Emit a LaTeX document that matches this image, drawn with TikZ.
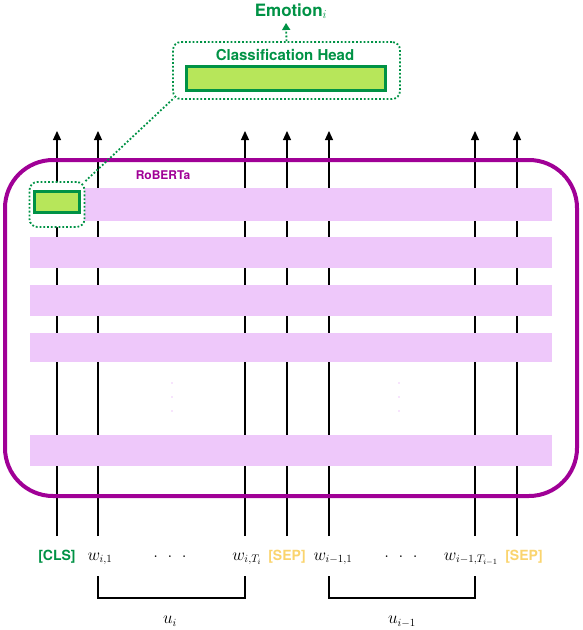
\documentclass[tikz,border=0pt]{standalone}
\usepackage{fontspec}
\setsansfont{TeX Gyre Heros}
\usepackage{amsmath}
\usepackage{tikz}
\usetikzlibrary{arrows.meta, calc, positioning}

\definecolor{headgreen}{RGB}{0,146,69}
\definecolor{lightgreen}{RGB}{183,230,90}
\definecolor{robpurple}{RGB}{160,0,150}
\definecolor{bandpink}{RGB}{238,200,250}
\definecolor{sepyellow}{RGB}{250,212,110}

\tikzset{
  tok/.style={font=\sffamily\bfseries\fontsize{14}{16}\selectfont, inner sep=1pt},
  word/.style={font=\fontsize{16}{18}\selectfont, inner sep=1pt},
  layerband/.style={fill=bandpink, draw=none},
  feedarrow/.style={line width=1.2pt, -{Triangle[length=9pt,width=8pt]}},
  greenbox/.style={draw=headgreen, fill=lightgreen, line width=3pt},
  zoombox/.style={draw=headgreen, dotted, line width=1.8pt, rounded corners=8pt},
}

\newcommand{\spdots}{.\hspace{0.6em}.\hspace{0.6em}.}

\begin{document}
\begin{tikzpicture}[x=1pt,y=-1pt]
  \useasboundingbox (0,0) rectangle (582,630);

  % input tokens
  \node[tok, text=headgreen] (cls) at (57,557) {[CLS]};
  \node[word] (wi1) at (100,559) {$w_{i,1}$};
  \node[word] (dots1) at (170,557) {$\spdots$};
  \node[word] (wiT) at (247,559) {$w_{i,T_i}$};
  \node[tok, text=sepyellow] (sep1) at (287,557) {[SEP]};
  \node[word] (wj1) at (333,559) {$w_{i-1,1}$};
  \node[word] (dots2) at (401,557) {$\spdots$};
  \node[word] (wjT) at (471,559) {$w_{i-1,T_{i-1}}$};
  \node[tok, text=sepyellow] (sep2) at (524,557) {[SEP]};

  % arrows through the encoder
  \foreach \tk/\xx in {cls/57, wi1/98, wiT/245, sep1/287, wj1/329, wjT/475, sep2/517} {
    \coordinate (\tk-in) at (\xx,536);
    \coordinate (\tk-out) at (\xx,131);
    \draw[feedarrow] (\tk-in) -- (\tk-out);
  }

  % layers
  \foreach \ya/\yb in {188/221, 237/268, 285/316, 333/362, 435/466}
    \fill[layerband] (30,\ya) rectangle (552,\yb);
  \foreach \xx in {172, 399}
    \foreach \yy in {383, 397, 411}
      \fill[bandpink] (\xx,\yy) circle (0.8pt);

  % RoBERTa
  \draw[robpurple, line width=4pt, rounded corners=48pt] (5,160) rectangle (577,496);
  \node[font=\sffamily\bfseries\fontsize{12}{14}\selectfont, text=robpurple] (rob) at (163,175) {RoBERTa};

  % CLS representation
  \node[zoombox, fill=white, minimum width=55pt, minimum height=45pt] (clsbox) at (57,204.5) {};
  \node[greenbox, minimum width=45pt, minimum height=21pt] (clsvec) at (57,202) {};

  % classification head
  \node[zoombox, minimum width=227pt, minimum height=57pt] (headbox) at (286.5,70.5) {};
  \node[font=\sffamily\bfseries\fontsize{15}{17}\selectfont, text=headgreen] (headlbl) at (285,55) {Classification Head};
  \node[greenbox, minimum width=199pt, minimum height=24pt] (headvec) at (286,78.5) {};
  \node[font=\sffamily\bfseries\fontsize{17}{19}\selectfont, text=headgreen] (emo) at (291,11) {Emotion$_i$};
  \draw[headgreen, dotted, line width=1.8pt, -{Triangle[length=7pt,width=8pt]}] (headbox.north) -- (286,23);
  \draw[headgreen, dotted, line width=1.8pt] (clsbox.north east) -- ($(headbox.south west)+(2,-2)$);

  % utterances
  \draw[line width=1.2pt] (98,576) -- (98,598) -- (245,598) -- (245,576);
  \draw[line width=1.2pt] (329,576) -- (329,598) -- (475,598) -- (475,576);
  \node[word] (ui) at (170,621) {$u_i$};
  \node[word] (uj) at (402,622) {$u_{i-1}$};
\end{tikzpicture}
\end{document}
